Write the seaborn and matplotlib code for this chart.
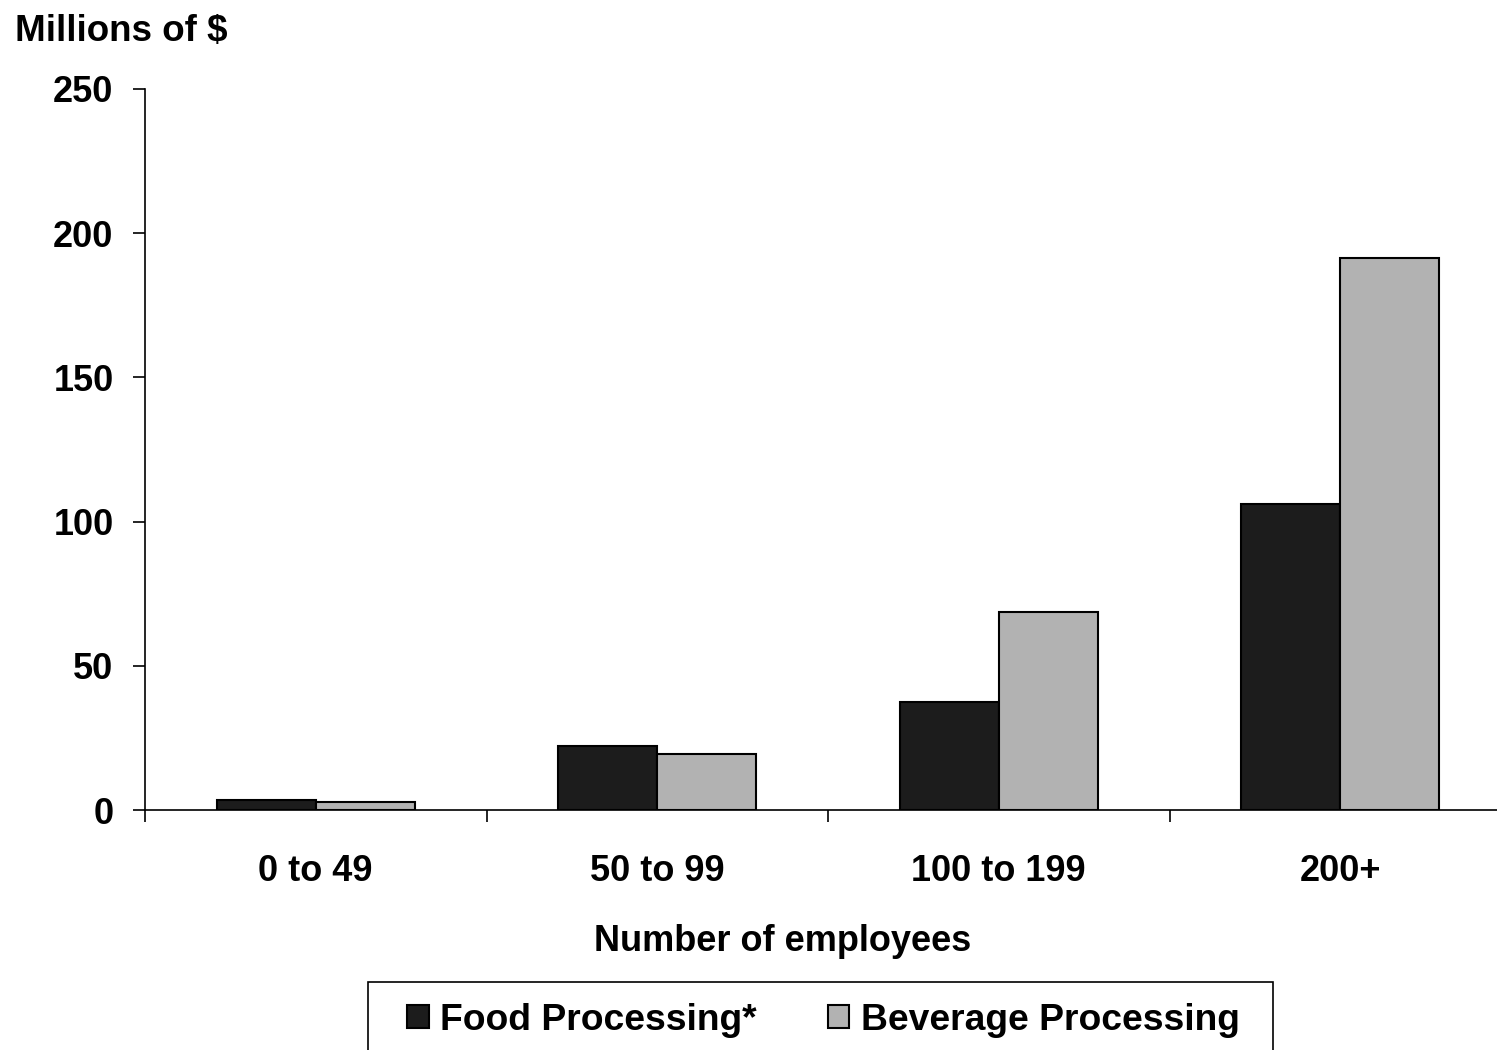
import pandas as pd
import seaborn as sns
import matplotlib.pyplot as plt
from matplotlib.patches import Rectangle
from matplotlib.ticker import FixedLocator

# ------------------------------------------------------------
# DATA
# ------------------------------------------------------------
categories = ["0 to 49", "50 to 99", "100 to 199", "200+"]
food = [3.5, 22.2, 37.4, 106.1]
beverage = [2.8, 19.4, 68.7, 191.4]
series_names = ["Food Processing*", "Beverage Processing"]
yticks = [0, 50, 100, 150, 200, 250]

df = pd.DataFrame({
    "size": categories * 2,
    "value": food + beverage,
    "series": [series_names[0]] * 4 + [series_names[1]] * 4,
})

# ------------------------------------------------------------
# PLOT
# ------------------------------------------------------------
sns.set_style("white")
plt.rcParams["font.family"] = ["Liberation Sans", "DejaVu Sans"]
plt.rcParams["font.weight"] = "bold"
plt.rcParams["text.color"] = "black"
plt.rcParams["xtick.color"] = "black"
plt.rcParams["ytick.color"] = "black"
plt.rcParams["axes.labelcolor"] = "black"

FS = 26

fig = plt.figure(figsize=(14.97, 10.5), dpi=100)
ax = fig.add_axes([145 / 1497, 1 - 810 / 1050, 1366 / 1497, 721 / 1050])

sns.barplot(data=df, x="size", y="value", hue="series", order=categories,
            hue_order=series_names, palette=["#1c1c1c", "#b2b2b2"],
            width=0.58, edgecolor="black", linewidth=1.5, ax=ax, legend=True)

ax.set_ylim(0, 250)
ax.set_xlim(-0.5, 3.5)
ax.set_yticks(yticks)
ax.set_yticklabels([str(t) for t in yticks], fontsize=FS, fontweight="bold")
ax.set_xticks(range(len(categories)))
ax.set_xticklabels(categories, fontsize=FS, fontweight="bold")
ax.tick_params(axis="x", which="major", length=0, pad=32)
ax.xaxis.set_minor_locator(FixedLocator([-0.5, 0.5, 1.5, 2.5, 3.5]))
ax.tick_params(axis="x", which="minor", length=8.6, width=1.2, direction="out", bottom=True)
ax.tick_params(axis="y", length=8.6, width=1.2, direction="out", left=True, pad=14)

for s in ["top", "right"]:
    ax.spines[s].set_visible(False)
for s in ["left", "bottom"]:
    ax.spines[s].set_color("black")
    ax.spines[s].set_linewidth(1.2)

ax.set_xlabel("Number of employees", fontsize=FS, fontweight="bold")
ax.xaxis.set_label_coords((783 - 145) / 1366, -0.158)
ax.set_ylabel("")
fig.text(15 / 1497, 1 - 32 / 1050, "Millions of $", fontsize=26.5, fontweight="bold",
         va="center", ha="left")

# legend with a plain box drawn around it
leg = ax.legend(loc="upper left", bbox_to_anchor=(407 / 1497, 1 - 1003 / 1050),
                bbox_transform=fig.transFigure, ncol=2, frameon=False,
                prop={"size": 26.8, "weight": "bold"},
                handlelength=0.58, handleheight=0.58, handletextpad=0.3,
                columnspacing=1.92, borderpad=0, borderaxespad=0)
fig.patches.append(Rectangle((368 / 1497, -0.05), (1273 - 368) / 1497, 0.05 + 1 - 982 / 1050,
                             transform=fig.transFigure, fill=False, edgecolor="black",
                             linewidth=1.2))

fig.savefig("out.png", dpi=100)
